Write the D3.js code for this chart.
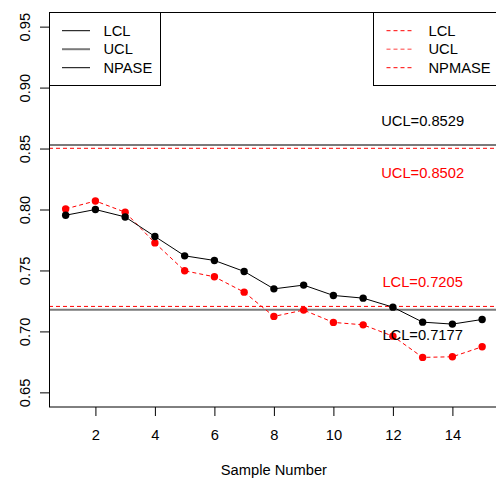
<!DOCTYPE html>
<html>
<head>
<meta charset="utf-8">
<script src="https://cdn.jsdelivr.net/npm/d3@7"></script>
<style>
  body { margin: 0; background: #fff; }
  text { font-family: "Liberation Sans", Arial, sans-serif; }
</style>
</head>
<body>
<div id="chart"></div>
<script>
// sample index
const samples = [1, 2, 3, 4, 5, 6, 7, 8, 9, 10, 11, 12, 13, 14, 15];
// NPASE (black) and NPMASE (red) values
const npase = [0.7953, 0.8000, 0.7939, 0.7779, 0.7620, 0.7582, 0.7492, 0.7349,
  0.7380, 0.7295, 0.7273, 0.7199, 0.7076, 0.7060, 0.7098];
const npmase = [0.8005, 0.8070, 0.7978, 0.7726, 0.7497, 0.7448, 0.7322, 0.7123,
  0.7175, 0.7074, 0.7054, 0.6961, 0.6787, 0.6792, 0.6874];
// control limits
const limitsNpase = { ucl: 0.8529, lcl: 0.7177 };
const limitsNpmase = { ucl: 0.8502, lcl: 0.7205 };
const xTicks = [2, 4, 6, 8, 10, 12, 14];
const yTicks = [0.65, 0.70, 0.75, 0.80, 0.85, 0.90, 0.95];
const legendLeft = ['LCL', 'UCL', 'NPASE'];
const legendRight = ['LCL', 'UCL', 'NPMASE'];

const width = 496, height = 479;
const fs = 14.7;

const svg = d3.select('#chart').append('svg')
  .attr('width', width)
  .attr('height', height);

const x = d3.scaleLinear().domain([0.44, 15.56]).range([49, 498.8]);
const y = d3.scaleLinear().domain([0.638, 0.962]).range([407, 12]);

// reference lines
function limitLines(lim, color, dash, w) {
  [lim.ucl, lim.lcl].forEach(v => {
    svg.append('line')
      .attr('x1', x.range()[0]).attr('x2', x.range()[1])
      .attr('y1', y(v)).attr('y2', y(v))
      .attr('stroke', color)
      .attr('stroke-width', w)
      .attr('stroke-dasharray', dash);
  });
}
limitLines(limitsNpase, '#7a7a7a', null, 2);
limitLines(limitsNpmase, '#ff0000', '4,3', 1);

// series
const line = d3.line().x((d, i) => x(samples[i])).y(d => y(d));

svg.append('path')
  .datum(npmase)
  .attr('fill', 'none')
  .attr('stroke', '#ff0000')
  .attr('stroke-width', 1)
  .attr('stroke-dasharray', '4,3')
  .attr('d', line);

svg.selectAll('circle.red')
  .data(npmase)
  .enter()
  .append('circle')
  .attr('class', 'red')
  .attr('cx', (d, i) => x(samples[i]))
  .attr('cy', d => y(d))
  .attr('r', 3.7)
  .attr('fill', '#ff0000');

svg.append('path')
  .datum(npase)
  .attr('fill', 'none')
  .attr('stroke', '#000')
  .attr('stroke-width', 1)
  .attr('d', line);

svg.selectAll('circle.black')
  .data(npase)
  .enter()
  .append('circle')
  .attr('class', 'black')
  .attr('cx', (d, i) => x(samples[i]))
  .attr('cy', d => y(d))
  .attr('r', 3.7)
  .attr('fill', '#000');

// limit labels
const labels = [
  { t: 'UCL=' + limitsNpase.ucl.toFixed(4), v: limitsNpase.ucl + 0.02, c: '#000' },
  { t: 'UCL=' + limitsNpmase.ucl.toFixed(4), v: limitsNpmase.ucl - 0.02, c: '#ff0000' },
  { t: 'LCL=' + limitsNpmase.lcl.toFixed(4), v: limitsNpmase.lcl + 0.02, c: '#ff0000' },
  { t: 'LCL=' + limitsNpase.lcl.toFixed(4), v: limitsNpase.lcl - 0.02, c: '#000' }
];
svg.selectAll('text.lim')
  .data(labels)
  .enter()
  .append('text')
  .attr('class', 'lim')
  .attr('x', x(13))
  .attr('y', d => y(d.v))
  .attr('dy', '0.36em')
  .attr('text-anchor', 'middle')
  .attr('font-size', fs)
  .attr('fill', d => d.c)
  .text(d => d.t);

// axes
const xAxis = svg.append('g')
  .attr('transform', 'translate(0,407)')
  .call(d3.axisBottom(x).tickValues(xTicks).tickSize(9).tickFormat(d3.format('d')));
xAxis.select('.domain').remove();
xAxis.selectAll('text')
  .attr('y', 32.5).attr('dy', 0)
  .attr('font-size', fs)
  .attr('fill', '#000');

const yAxis = svg.append('g')
  .attr('transform', 'translate(49,0)')
  .call(d3.axisLeft(y).tickValues(yTicks).tickSize(9).tickFormat(d3.format('.2f')));
yAxis.select('.domain').remove();
yAxis.selectAll('text')
  .attr('x', 0).attr('dy', 0)
  .attr('text-anchor', 'middle')
  .attr('transform', 'translate(-19.5,0) rotate(-90)')
  .attr('font-size', fs)
  .attr('fill', '#000');
svg.selectAll('.tick line').attr('stroke', '#000');
svg.selectAll('.tick text').attr('font-family', '"Liberation Sans", Arial, sans-serif');

// plot box
svg.append('rect')
  .attr('x', 49.5).attr('y', 12.5)
  .attr('width', 449).attr('height', 394.5)
  .attr('fill', 'none')
  .attr('stroke', '#000');

svg.append('text')
  .attr('x', (x.range()[0] + x.range()[1]) / 2)
  .attr('y', 475)
  .attr('text-anchor', 'middle')
  .attr('font-size', fs)
  .text('Sample Number');

// legends
function legend(x0, w, labelsArr, styles, lineX, textX) {
  const g = svg.append('g');
  g.append('rect')
    .attr('x', x0).attr('y', 12.5)
    .attr('width', w).attr('height', 73)
    .attr('fill', '#fff')
    .attr('stroke', '#000');
  labelsArr.forEach((lab, i) => {
    const yy = 30.7 + i * 18.5;
    g.append('line')
      .attr('x1', lineX).attr('x2', lineX + 28)
      .attr('y1', yy).attr('y2', yy)
      .attr('stroke', styles[i].c)
      .attr('stroke-width', styles[i].w)
      .attr('stroke-dasharray', styles[i].dash);
    g.append('text')
      .attr('x', textX).attr('y', yy)
      .attr('dy', '0.36em')
      .attr('font-size', fs)
      .text(lab);
  });
}
legend(49.5, 111, legendLeft, [
  { c: '#000', w: 1, dash: null },
  { c: '#7a7a7a', w: 2, dash: null },
  { c: '#000', w: 1, dash: null }
], 62, 103.5);
legend(373.5, 130, legendRight, [
  { c: '#ff0000', w: 1, dash: '4,3' },
  { c: '#ff8080', w: 1.5, dash: '4,3' },
  { c: '#ff0000', w: 1, dash: '4,3' }
], 386.5, 428.5);
</script>
</body>
</html>
